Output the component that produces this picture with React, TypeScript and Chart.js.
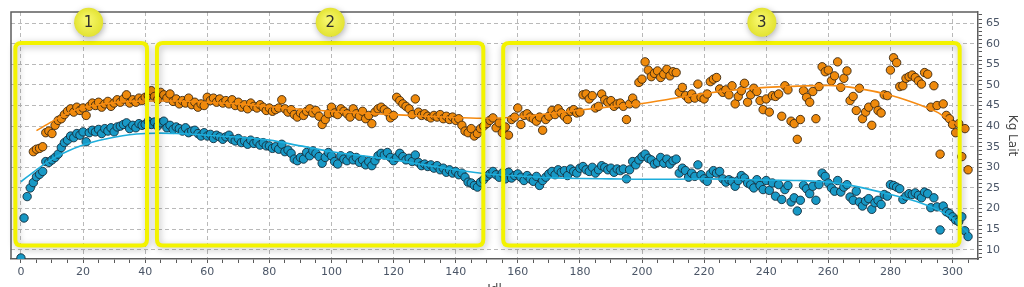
import { useEffect, useRef } from 'react';
import { Chart, registerables } from 'chart.js';

Chart.register(...registerables);

// ---------- data ----------
const blueStartDay = 0;
const blueKg = [
  8, 17.7, 22.9, 25, 26.3, 27.7, 28.3, 29, 31.4, 31.2,
  31.8, 32.4, 33.2, 34.8, 36, 36.6, 37.6, 37.2, 38.2, 37.8,
  38.6, 36.2, 38.4, 39, 38.6, 39.2, 38.2, 39.4, 38.8, 39.6,
  38.6, 39.8, 40, 40.4, 40.8, 39.4, 40.2, 39.6, 40.6, 40.2,
  40.4, 41.2, 40.4, 41, 40, 40.8, 41.2, 39.6, 40.2, 39.2,
  39.8, 39.4, 38.8, 39.6, 38.4, 38.8, 39, 38.2, 37.6, 38.4,
  37.6, 38, 37, 37.8, 37.4, 36.8, 37.4, 37.8, 36.8, 36.4,
  37, 36, 36.4, 35.6, 36.6, 35.8, 36.2, 35.4, 36, 35.2,
  35.2, 34.6, 35, 34.4, 35.6, 33.8, 34.2, 33.4, 32, 31.6,
  32.4, 32, 33.6, 32.8, 34, 33.4, 32.6, 31, 32.4, 33.6,
  32.8, 31.4, 30.8, 32.8, 32, 31.6, 32.8, 31.8, 32.4, 31.2,
  31.8, 30.6, 31.4, 30.4, 31.6, 32.8, 33.4, 33, 33.6, 32.4,
  31.6, 32.4, 33.4, 32.6, 31.8, 32.2, 31.4, 33, 31.2, 30.4,
  30.8, 30.2, 30.6, 29.8, 30.4, 29.4, 29.8, 28.8, 29.4, 28.6,
  29, 28.2, 28.6, 27.6, 26.4, 26.2, 25.6, 25.2, 26.4, 27,
  27.8, 28.4, 29, 28.2, 27.6, 28.6, 27.2, 28.8, 27.4, 28,
  28.4, 27.6, 26.8, 28, 27.2, 26.6, 27.8, 25.6, 26.8, 27.6,
  28.4, 29, 28.2, 29.4, 28.8, 29.2, 28, 29.6, 29, 28.6,
  29.8, 30.2, 29.4, 29, 30, 28.6, 29.4, 30.4, 30, 29.4,
  29.8, 28.8, 29.6, 29.2, 29.6, 27.2, 29.4, 31.4, 30.6, 31.8,
  32.6, 33.2, 32.2, 31.8, 30.8, 31.2, 32.4, 31, 32, 30.8,
  31.6, 32, 28.6, 29.8, 29.2, 27.6, 28.6, 27.8, 30.6, 28.2,
  27.2, 26.6, 28.4, 29.2, 28.6, 29, 27.2, 26.4, 27, 26.6,
  25.4, 26.8, 28, 27.4, 26.2, 25.8, 25, 27, 25.6, 24.6,
  26.8, 24.4, 26.2, 23, 25.8, 22.2, 24.6, 25.6, 21.6, 22.6,
  19.4, 22, 25.6, 24.8, 23.6, 25.4, 22, 25.8, 28.6, 27.8,
  26.2, 25, 24.2, 26.8, 24, 25.2, 25.8, 22.8, 22, 24.2,
  21.6, 20.6, 21.8, 22.4, 19.8, 21.4, 22, 21, 23.4, 23,
  25.8, 25.6, 25.2, 24.8, 22.2, 23, 23.6, 23.4, 23.8, 23.2,
  22.6, 24, 23.6, 20.2, 22.6, 20.4, 14.8, 20.6, 19.2, 18.8,
  18, 17.2, 16.8, 18, 14.6, 13.2,
];

const orangeStartDay = 4;
const orangeKg = [
  33.8, 34.4, 34.6, 35, 38.4, 38.8,
  38.2, 40.2, 41.4, 41.8, 42.8, 43.6, 44.2, 43.4, 44.6, 43.8,
  44.4, 42.6, 44.8, 45.6, 45, 45.8, 44.6, 45.4, 46, 44.8,
  45.6, 46.4, 45.8, 46.6, 47.6, 45.6, 46.4, 45.8, 46.8, 46.2,
  47, 47.4, 48.6, 47.2, 46.4, 48.2, 47.6, 46.8, 47.8, 46,
  46.6, 45.4, 46.2, 45.6, 46.8, 45.2, 45.8, 44.6, 45.4, 45,
  47, 46.2, 46.8, 45.8, 46.6, 45.6, 46.2, 45.4, 46.4, 45,
  45.8, 44.6, 45.2, 44.2, 45.6, 44.8, 44.4, 45.2, 44.6, 43.8,
  44.4, 43.6, 44, 44.4, 46.4, 44.2, 43.4, 44, 42.8, 42.2,
  43.2, 42.6, 43.6, 44.2, 43.2, 43.8, 42.4, 40.4, 41.6, 43,
  44.6, 43.2, 42.8, 44.2, 43.6, 43, 42.2, 44.2, 43, 42.4,
  43.6, 41.8, 42.6, 40.6, 43.4, 44.2, 44.6, 44, 43.4, 42,
  42.6, 47, 46.2, 45.4, 44.8, 44.2, 42.8, 46.6, 43.4, 42.6,
  43, 42.4, 42, 42.6, 42.2, 42.8, 41.8, 42.4, 41.6, 42.2,
  41.4, 41.8, 40.2, 38.8, 38.4, 39.4, 37.6, 38.2, 39.4, 40,
  40.6, 41.4, 42, 39.6, 40.8, 38.4, 39.8, 37.8, 41.6, 42.2,
  44.4, 40.4, 42.6, 43, 42.2, 41.8, 41.2, 42.2, 39, 41.6,
  42.4, 43.8, 42.8, 44.2, 43.2, 42.4, 41.6, 43.6, 44, 43.2,
  43.4, 47.6, 47.8, 46.6, 47.4, 44.4, 44.8, 47.8, 46.4, 45.8,
  46.2, 44.8, 45.4, 45.6, 44.8, 41.6, 45.4, 46.8, 45.4, 50.6,
  51.4, 55.6, 53.6, 52, 52.8, 53.4, 51.8, 52.6, 53.8, 52.2,
  53.2, 53, 48.2, 49.4, 47.4, 46.6, 47.8, 46.8, 50.2, 47,
  46.6, 47.8, 50.8, 51.4, 51.8, 49, 48.2, 48.8, 47.6, 49.8,
  45.4, 47.2, 48.6, 50.4, 45.8, 47.6, 49.2, 48.4, 46.2, 44,
  46.6, 43.4, 47.4, 47.2, 47.8, 42.4, 49.8, 48.8, 41.2, 40.6,
  36.8, 41.6, 48.6, 47, 45.8, 48.4, 41.8, 49.6, 54.4, 53.2,
  53.6, 51, 52.2, 55.6, 49.4, 51.6, 53.4, 46.2, 47.2, 43.8,
  49.2, 41.8, 43.4, 44.6, 40.2, 45.4, 43.8, 43.2, 47.6, 47.4,
  53.6, 56.6, 55.4, 49.6, 49.8, 51.6, 52, 52.4, 51.8, 51,
  50.2, 53, 52.6, 44.6, 49.8, 45, 33.2, 45.4, 42.6, 41.8,
  40.4, 38.4, 40.6, 32.6, 39.4, 29.4,
];

const blueTrendDays = [0, 5, 10, 15, 20, 25, 30, 35, 40, 45, 50, 60, 70, 80, 90, 100, 110, 120, 130, 140, 150, 160, 170, 180, 190, 200, 210, 220, 230, 240, 250, 260, 270, 280, 290, 295, 300, 305];
const blueTrendKg = [26.5, 29.4, 32, 33.9, 35.4, 36.5, 37.3, 37.9, 38.2, 38.3, 38.2, 37.8, 37.3, 36.6, 35.2, 33.8, 32.8, 31.8, 30.6, 29.4, 28.4, 27.9, 27.5, 27.3, 27.2, 27.1, 27.1, 27.2, 27.1, 26.9, 26.8, 26.4, 25.2, 23.4, 21.3, 19.8, 17.6, 14];

const orangeTrendDays = [5, 10, 15, 20, 25, 30, 35, 40, 50, 60, 70, 80, 90, 100, 110, 120, 130, 140, 150, 160, 170, 180, 190, 200, 210, 220, 230, 240, 250, 260, 270, 280, 290, 295, 300, 305];
const orangeTrendKg = [38.9, 41.1, 43.1, 44.5, 45.2, 45.7, 46, 46.1, 46.1, 45.8, 45.4, 44.7, 44.1, 43.6, 43.2, 42.8, 42.4, 42.1, 41.9, 42.2, 43, 43.9, 44.7, 45.5, 46.7, 47.9, 48.8, 49.4, 49.7, 49.9, 49.1, 47.5, 45, 43.4, 41, 39.2];

// annotation boxes (data units)
const boxLabels = ['1', '2', '3'];
const boxFromDay = [-1.8, 43.8, 155.3];
const boxToDay = [40.6, 148.9, 302.3];
const boxTopKg = 60.2;
const boxBottomKg = 11;
const badgeDay = [21.8, 99.6, 238.6];
const badgeKg = 65.2;

const xMin = -3.2;
const xMax = 308.2;
const yMin = 7.75;
const yMax = 67.7;

const W = 1024;
const H = 287;

const near = (v: number, m: number) => {
  const r = Math.abs(v % m);
  return r < 1e-6 || Math.abs(r - m) < 1e-6;
};

const framePlugin = {
  id: 'frame',
  beforeDatasetsDraw(chart: any) {
    const { ctx, chartArea } = chart;
    ctx.save();
    ctx.strokeStyle = '#5e5e5e';
    ctx.lineWidth = 1.5;
    ctx.beginPath();
    ctx.moveTo(chartArea.left, chartArea.bottom);
    ctx.lineTo(chartArea.left, chartArea.top);
    ctx.lineTo(chartArea.right, chartArea.top);
    ctx.stroke();
    ctx.restore();
  },
};

function roundRect(ctx: CanvasRenderingContext2D, x: number, y: number, w: number, h: number, r: number) {
  ctx.beginPath();
  ctx.moveTo(x + r, y);
  ctx.lineTo(x + w - r, y);
  ctx.quadraticCurveTo(x + w, y, x + w, y + r);
  ctx.lineTo(x + w, y + h - r);
  ctx.quadraticCurveTo(x + w, y + h, x + w - r, y + h);
  ctx.lineTo(x + r, y + h);
  ctx.quadraticCurveTo(x, y + h, x, y + h - r);
  ctx.lineTo(x, y + r);
  ctx.quadraticCurveTo(x, y, x + r, y);
  ctx.closePath();
}

const annotationPlugin = {
  id: 'zones',
  afterDatasetsDraw(chart: any) {
    const { ctx } = chart;
    const xs = chart.scales.x;
    const ys = chart.scales.y;
    ctx.save();
    for (let i = 0; i < boxLabels.length; i++) {
      const x0 = xs.getPixelForValue(boxFromDay[i]);
      const x1 = xs.getPixelForValue(boxToDay[i]);
      const y0 = ys.getPixelForValue(boxTopKg);
      const y1 = ys.getPixelForValue(boxBottomKg);
      ctx.save();
      ctx.shadowColor = 'rgba(0,0,0,0.28)';
      ctx.shadowBlur = 7;
      ctx.shadowOffsetX = 1;
      ctx.shadowOffsetY = 2;
      ctx.strokeStyle = '#f3f300';
      ctx.lineWidth = 4;
      roundRect(ctx, x0, y0, x1 - x0, y1 - y0, 6);
      ctx.stroke();
      ctx.restore();
    }
    for (let i = 0; i < boxLabels.length; i++) {
      const cx = xs.getPixelForValue(badgeDay[i]);
      const cy = ys.getPixelForValue(badgeKg);
      ctx.save();
      ctx.shadowColor = 'rgba(0,0,0,0.3)';
      ctx.shadowBlur = 6;
      ctx.shadowOffsetX = 1;
      ctx.shadowOffsetY = 2;
      const g = ctx.createRadialGradient(cx - 2, cy - 3, 2, cx, cy, 14.5);
      g.addColorStop(0, '#f6f66a');
      g.addColorStop(1, '#e3e332');
      ctx.fillStyle = g;
      ctx.beginPath();
      ctx.arc(cx, cy, 14.5, 0, Math.PI * 2);
      ctx.fill();
      ctx.restore();
      ctx.fillStyle = '#2e2e2e';
      ctx.font = '15px "DejaVu Sans"';
      ctx.textAlign = 'center';
      ctx.textBaseline = 'middle';
      ctx.fillText(boxLabels[i], cx, cy + 1);
    }
    ctx.restore();
  },
};

const tickFont = { family: '"DejaVu Sans", sans-serif', size: 11 };
const tickColor = '#4a5566';

export default function App() {
  const ref = useRef<HTMLCanvasElement>(null);

  useEffect(() => {
    document.body.style.margin = '0';
    const canvas = ref.current;
    if (!canvas) return;

    const bluePts = blueKg.map((v, i) => ({ x: blueStartDay + i, y: v }));
    const orangePts = orangeKg.map((v, i) => ({ x: orangeStartDay + i, y: v }));
    const blueTrend = blueTrendDays.map((d, i) => ({ x: d, y: blueTrendKg[i] }));
    const orangeTrend = orangeTrendDays.map((d, i) => ({ x: d, y: orangeTrendKg[i] }));

    const chart = new Chart(canvas, {
      type: 'scatter',
      data: {
        datasets: [
          {
            label: 'Tendance 2',
            data: orangeTrend,
            showLine: true,
            pointRadius: 0,
            borderColor: '#f68b12',
            borderWidth: 1.6,
            cubicInterpolationMode: 'monotone',
            order: 0,
          } as any,
          {
            label: 'Tendance 1',
            data: blueTrend,
            showLine: true,
            pointRadius: 0,
            borderColor: '#1eaedc',
            borderWidth: 1.6,
            cubicInterpolationMode: 'monotone',
            order: 0,
          } as any,
          {
            label: 'Lait 2',
            data: orangePts,
            pointRadius: 4.2,
            backgroundColor: '#ef8a0c',
            borderColor: 'rgba(60,40,15,0.9)',
            borderWidth: 1,
            order: 1,
          },
          {
            label: 'Lait 1',
            data: bluePts,
            pointRadius: 4.2,
            backgroundColor: '#1899c6',
            borderColor: 'rgba(20,45,60,0.9)',
            borderWidth: 1,
            order: 1,
          },
        ],
      },
      options: {
        responsive: false,
        animation: false,
        devicePixelRatio: 1,
        layout: { padding: { left: 11, top: 12, right: 0, bottom: 0 } },
        plugins: {
          legend: { display: false },
          tooltip: { enabled: false },
        },
        scales: {
          x: {
            type: 'linear',
            position: 'bottom',
            min: xMin,
            max: xMax,
            afterFit: (s: any) => {
              s.height = 28;
            },
            ticks: {
              stepSize: 5,
              autoSkip: false,
              maxRotation: 0,
              includeBounds: false,
              color: tickColor,
              font: tickFont,
              padding: 3,
              callback: (v: any) => (near(Number(v), 20) ? String(Math.round(Number(v))) : ''),
            },
            grid: {
              color: (c: any) => (c.tick && near(c.tick.value, 20) ? '#b9b9b9' : 'rgba(0,0,0,0)'),
              tickColor: '#5a5a5a',
              tickLength: 4,
              lineWidth: 1,
              tickWidth: 1,
            },
            border: { display: true, color: '#5e5e5e', width: 1.5, dash: [4, 3] },
            title: {
              display: true,
              text: 'Jdl',
              color: '#444',
              font: { family: '"DejaVu Sans", sans-serif', size: 12 },
              padding: { top: 0, bottom: -10 },
            },
          } as any,
          y: {
            type: 'linear',
            position: 'right',
            min: yMin,
            max: yMax,
            afterFit: (s: any) => {
              s.width = 46;
            },
            ticks: {
              stepSize: 1,
              autoSkip: false,
              includeBounds: false,
              color: tickColor,
              font: tickFont,
              padding: 4,
              callback: (v: any) => (near(Number(v), 5) ? String(Math.round(Number(v))) : ''),
            },
            grid: {
              color: (c: any) => (c.tick && near(c.tick.value, 5) ? '#b9b9b9' : 'rgba(0,0,0,0)'),
              tickColor: '#5a5a5a',
              tickLength: 4,
              lineWidth: 1,
              tickWidth: 1,
            },
            border: { display: true, color: '#5e5e5e', width: 1.5, dash: [4, 3] },
            title: {
              display: true,
              text: 'Kg Lait',
              color: '#444',
              font: { family: '"DejaVu Sans", sans-serif', size: 12 },
              padding: { top: 5, bottom: 0 },
            },
          } as any,
        },
      },
      plugins: [framePlugin, annotationPlugin],
    });

    return () => chart.destroy();
  }, []);

  return (
    <div style={{ width: W, height: H, position: 'relative', background: '#fff' }}>
      <canvas ref={ref} width={W} height={H} style={{ display: 'block', width: W, height: H }} />
    </div>
  );
}
